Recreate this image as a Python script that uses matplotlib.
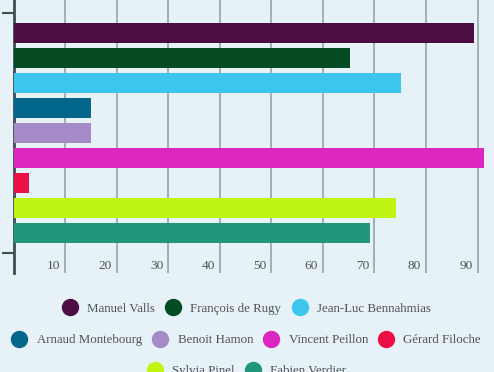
import numpy as np
import matplotlib.pyplot as plt
import matplotlib.transforms as mtransforms
from matplotlib.lines import Line2D

# candidats et valeurs
candidats = ["Manuel Valls", "François de Rugy", "Jean-Luc Bennahmias",
             "Arnaud Montebourg", "Benoit Hamon", "Vincent Peillon",
             "Gérard Filoche", "Sylvia Pinel", "Fabien Verdier"]
valeurs = [89.4, 65.3, 75.2, 15.0, 15.0, 91.3, 3.0, 74.2, 69.1]
couleurs = ["#4a0e42", "#044a22", "#3cc6ee", "#03668b", "#a48bc8",
            "#dc26c0", "#ea0f44", "#c0f513", "#22967a"]
xticks = [10, 20, 30, 40, 50, 60, 70, 80, 90]

fond = "#e6f2f8"
texte = "#4d5358"
plt.rcParams["font.family"] = ["Liberation Serif", "DejaVu Serif"]

fig = plt.figure(figsize=(4.94, 3.72), dpi=100, facecolor=fond)
ax = fig.add_axes([13.5 / 494, 99 / 372, 1 - 13.5 / 494, 273 / 372])
ax.set_facecolor(fond)

y = np.arange(len(candidats))
ax.barh(y, valeurs, height=0.79, color=couleurs, zorder=3)

ax.set_xlim(0, 93.2)
ax.set_ylim(9.61, -1.31)

# grille verticale
ax.set_xticks(xticks)
ax.grid(axis="x", color="#96a4ab", linewidth=1.2, zorder=1)
ax.tick_params(axis="x", length=0, pad=-9.5, labelsize=9.6, labelcolor=texte)
for lbl in ax.get_xticklabels():
    lbl.set_horizontalalignment("right")
    lbl.set_transform(lbl.get_transform() +
                      mtransforms.ScaledTranslation(-0.05, 0, fig.dpi_scale_trans))

ax.set_yticks([-0.8, 8.8])
ax.set_yticklabels(["", ""])
ax.tick_params(axis="y", length=9, width=1.5, color="#3d4b52")

for s in ["top", "right", "bottom"]:
    ax.spines[s].set_visible(False)
ax.spines["left"].set_color("#3d4b52")
ax.spines["left"].set_linewidth(2)

# légende en trois lignes centrées
rangees = [[0, 1, 2], [3, 4, 5, 6], [7, 8]]
hauteurs = [308.5, 340, 371]
for rang, yh in zip(rangees, hauteurs):
    poignees = [Line2D([], [], linestyle="none", marker="o", markersize=11.5,
                       markerfacecolor=couleurs[i], markeredgecolor=couleurs[i])
                for i in rang]
    leg = fig.legend(poignees, [candidats[i] for i in rang], ncol=len(rang),
                     loc="center", bbox_to_anchor=(0.5, 1 - yh / 372),
                     frameon=False, fontsize=9.3, labelcolor=texte,
                     handlelength=1.0, handletextpad=0.85, columnspacing=0.9,
                     borderaxespad=0, borderpad=0)

fig.savefig("out.png", dpi=100, facecolor=fond)
